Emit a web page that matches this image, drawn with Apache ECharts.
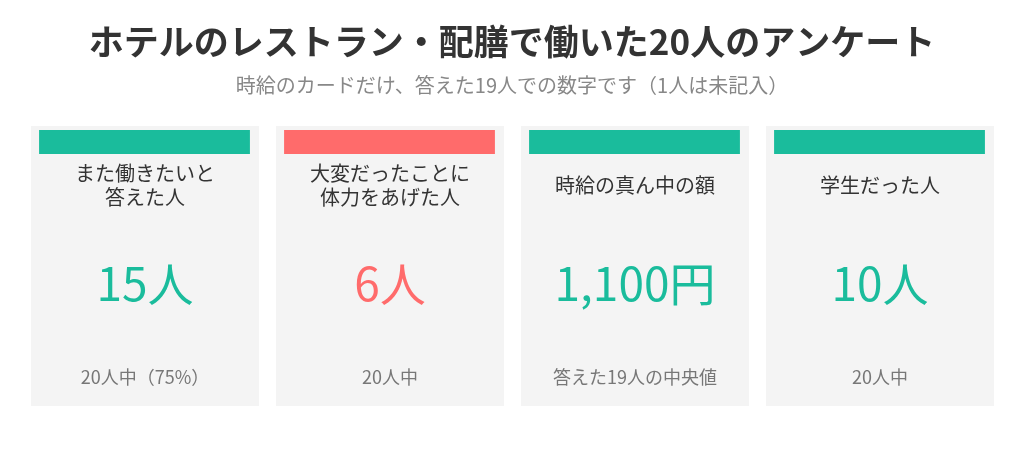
<!DOCTYPE html>
<html>
<head>
<meta charset="utf-8">
<script src="https://cdn.jsdelivr.net/npm/echarts@6/dist/echarts.min.js"></script>
<style>
html,body{margin:0;padding:0;background:#fff;}
#chart{width:1024px;height:450px;}
</style>
</head>
<body>
<div id="chart"></div>
<script>
const cardTitles = ['また働きたいと\n答えた人', '大変だったことに\n体力をあげた人', '時給の真ん中の額', '学生だった人'];
const cardValues = [15, 6, 1100, 10];
const cardUnits = ['人', '人', '円', '人'];
const cardNotes = ['20人中（75%）', '20人中', '答えた19人の中央値', '20人中'];
const cardTone = ['good', 'bad', 'good', 'good'];
const categories = cardTitles.map(function (t, i) { return 'card' + i; });

const FONT = '"Noto Sans CJK JP", "Noto Sans", sans-serif';
const toneColor = { good: '#1ABC9C', bad: '#FF6B6B' };

const chart = echarts.init(document.getElementById('chart'));
chart.setOption({
  backgroundColor: '#ffffff',
  animation: false,
  title: {
    left: 'center',
    top: 19,
    text: 'ホテルのレストラン・配膳で働いた20人のアンケート',
    subtext: '時給のカードだけ、答えた19人での数字です（1人は未記入）',
    itemGap: 16,
    textStyle: { fontFamily: FONT, fontSize: 35, fontWeight: 'bold', color: '#333333' },
    subtextStyle: { fontFamily: FONT, fontSize: 20, color: '#888888' }
  },
  grid: { left: 22.5, right: 21.5, top: 126, bottom: 44 },
  xAxis: { type: 'category', data: categories, show: false },
  yAxis: { type: 'value', min: 0, max: 1, show: false },
  series: [{
    type: 'custom',
    data: cardValues.map(function (v, i) { return [i, 1, v]; }),
    renderItem: function (params, api) {
      const i = api.value(0);
      const top = api.coord([i, 1]);
      const bottom = api.coord([i, 0]);
      const bandW = api.size([1, 0])[0];
      const w = bandW * 0.93;
      const cx = top[0];
      const x0 = cx - w / 2;
      const y0 = top[1];
      const h = bottom[1] - top[1];
      const color = toneColor[cardTone[i]];
      const val = api.value(2);
      return {
        type: 'group',
        children: [
          { type: 'rect', shape: { x: x0, y: y0, width: w, height: h }, style: { fill: '#F4F4F4' } },
          { type: 'rect', shape: { x: x0 + 8, y: y0 + 4, width: w - 17, height: 24 }, style: { fill: color } },
          { type: 'text', style: { text: cardTitles[i], x: cx, y: y0 + 59, align: 'center', verticalAlign: 'middle', fontFamily: FONT, fontSize: 20, lineHeight: 24, fill: '#333333' } },
          { type: 'text', style: { text: val.toLocaleString('en-US') + cardUnits[i], x: cx, y: y0 + 158, align: 'center', verticalAlign: 'middle', fontFamily: FONT, fontSize: 46, fill: color } },
          { type: 'text', style: { text: cardNotes[i], x: cx, y: y0 + 251, align: 'center', verticalAlign: 'middle', fontFamily: FONT, fontSize: 18, fill: '#777777' } }
        ]
      };
    }
  }]
});
</script>
</body>
</html>
